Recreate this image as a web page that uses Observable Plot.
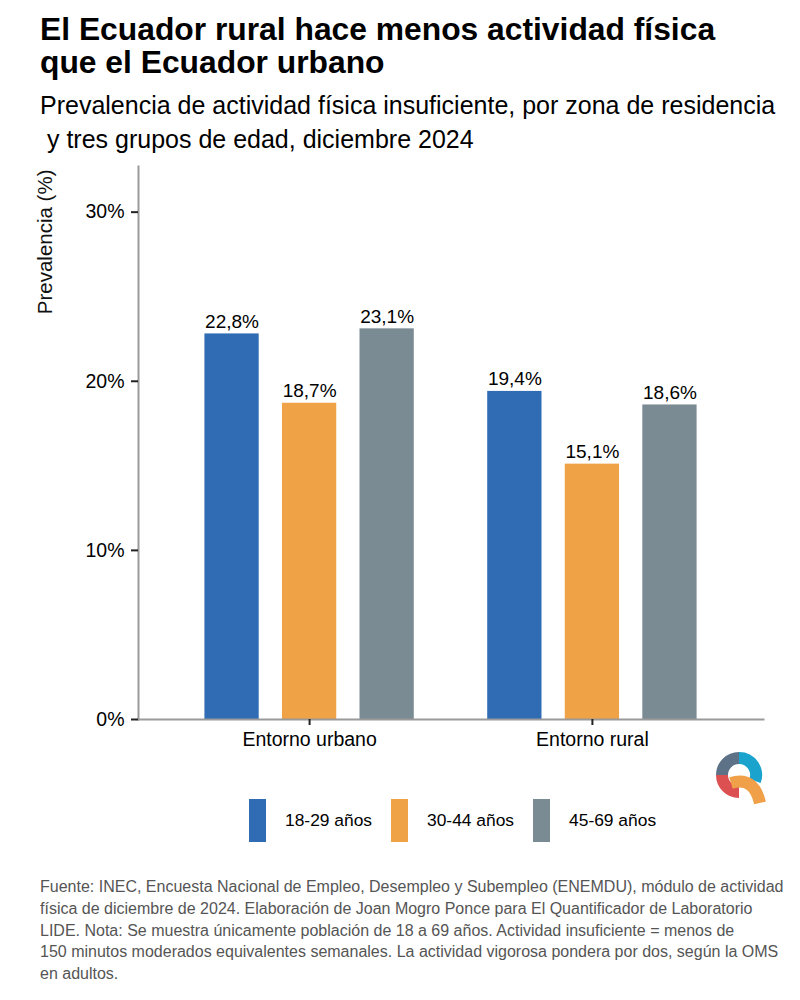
<!DOCTYPE html>
<html>
<head>
<meta charset="utf-8">
<script src="https://cdn.jsdelivr.net/npm/d3@7"></script>
<script src="https://cdn.jsdelivr.net/npm/@observablehq/plot@0.6"></script>
<style>
  html, body { margin: 0; padding: 0; background: #fff; }
  body { width: 800px; height: 1000px; position: relative; font-family: "Liberation Sans", Arial, sans-serif; color: #000; }
  #title { position: absolute; left: 40px; top: 13px; font-size: 31.8px; font-weight: bold; line-height: 33px; white-space: nowrap; margin: 0; }
  #subtitle { position: absolute; left: 40px; top: 88px; font-size: 25px; line-height: 34px; white-space: pre; margin: 0; }
  #chart { position: absolute; left: 0; top: 155px; }
  #legend { position: absolute; left: 249px; top: 799px; height: 43px; display: flex; align-items: center; gap: 19px; }
  .item { display: flex; align-items: center; }
  .sw { width: 17px; height: 43px; }
  .lab { margin-left: 19px; font-size: 17.4px; white-space: nowrap; }
  #logo { position: absolute; left: 710px; top: 746px; }
  #caption { position: absolute; left: 40px; top: 876px; font-size: 16px; line-height: 21.8px; color: #555; white-space: nowrap; }
</style>
</head>
<body>
<div id="title">El Ecuador rural hace menos actividad física<br>que el Ecuador urbano</div>
<div id="subtitle">Prevalencia de actividad física insuficiente, por zona de residencia
 y tres grupos de edad, diciembre 2024</div>
<div id="chart"></div>
<div id="legend"></div>
<svg id="logo" width="60" height="62" viewBox="710 746 60 62">
  <g fill="none" stroke-width="12">
    <path d="M 722 775 A 17 17 0 0 1 739 758" stroke="#5d7287"/>
    <path d="M 739 758 A 17 17 0 0 1 755 781" stroke="#1aa3cc"/>
    <path d="M 722 775 A 17 17 0 0 0 739 792" stroke="#dc5052"/>
    <path d="M 731 783 Q 754 776 760 803" stroke="#f0a048"/>
  </g>
</svg>
<div id="caption">Fuente: INEC, Encuesta Nacional de Empleo, Desempleo y Subempleo (ENEMDU), módulo de actividad<br>física de diciembre de 2024. Elaboración de Joan Mogro Ponce para El Quantificador de Laboratorio<br>LIDE. Nota: Se muestra únicamente población de 18 a 69 años. Actividad insuficiente = menos de<br>150 minutos moderados equivalentes semanales. La actividad vigorosa pondera por dos, según la OMS<br>en adultos.</div>
<script>
const zonas = ["Entorno urbano", "Entorno rural"];
const grupos = ["18-29 años", "30-44 años", "45-69 años"];
const valoresUrbano = [22.8, 18.7, 23.1];
const valoresRural = [19.4, 15.1, 18.6];
const colores = ["#2f6cb3", "#f0a246", "#7a8b94"];
const yTicks = [0, 10, 20, 30];

const serie = { "Entorno urbano": valoresUrbano, "Entorno rural": valoresRural };
const data = [];
zonas.forEach(z => grupos.forEach((g, j) => data.push({ zona: z, grupo: g, valor: serie[z][j] })));

const fmt = v => v.toFixed(1).replace(".", ",") + "%";

// layout of the facet band scale (so that the axis lines span the whole panel)
const W = 800, mL = 138, mR = 37;
const fxInner = 0.15, fxOuter = 0.18;
const fxStep = (W - mL - mR) / (zonas.length - fxInner + 2 * fxOuter);
const off = fxOuter * fxStep; // distance from panel edge to first facet band

const chart = Plot.plot({
  width: W,
  height: 605,
  marginLeft: mL,
  marginRight: mR,
  marginTop: 11,
  marginBottom: 41,
  style: { fontFamily: "'Liberation Sans', Arial, sans-serif", fontSize: "19px", color: "#111", background: "white", overflow: "visible" },
  fx: { domain: zonas, paddingInner: fxInner, paddingOuter: fxOuter, round: false, label: null },
  x: { domain: grupos, paddingInner: 0.3, paddingOuter: 0.2, round: false, axis: null },
  y: { domain: [0, 32.7], label: null },
  color: { domain: grupos, range: colores },
  marks: [
    Plot.barY(data, { fx: "zona", x: "grupo", y: "valor", fill: "grupo" }),
    Plot.text(data, { fx: "zona", x: "grupo", y: "valor", text: d => fmt(d.valor), lineAnchor: "bottom", dy: -6, fontSize: 19, fill: "#000" }),
    Plot.frame({ anchor: "left", facet: "super", dx: -off, stroke: "#9a9a9a", strokeWidth: 2 }),
    Plot.frame({ anchor: "bottom", facet: "super", insetLeft: -off, insetRight: -off, stroke: "#9a9a9a", strokeWidth: 2 }),
    Plot.axisY({ ticks: yTicks, tickFormat: d => d + "%", dx: -off, tickSize: 7, tickPadding: 7, fontSize: 19.5, label: null, stroke: "#222", strokeWidth: 2, fill: "#000" }),
    Plot.axisFx({ anchor: "bottom", tickSize: 6, tickPadding: 7, label: null, fontSize: 19.5, stroke: "#222", strokeWidth: 2, fill: "#000" }),
    Plot.text(["Prevalencia (%)"], { facet: "super", frameAnchor: "top-left", rotate: -90, textAnchor: "end", dx: 37 - (mL + off), dy: 3, fontSize: 20.5, text: d => d, fill: "#111" })
  ]
});
document.getElementById("chart").appendChild(chart);

const legend = document.getElementById("legend");
grupos.forEach((g, i) => {
  const item = document.createElement("div");
  item.className = "item";
  const sw = document.createElement("div");
  sw.className = "sw";
  sw.style.background = colores[i];
  const lab = document.createElement("span");
  lab.className = "lab";
  lab.textContent = g;
  item.appendChild(sw);
  item.appendChild(lab);
  legend.appendChild(item);
});
</script>
</body>
</html>
